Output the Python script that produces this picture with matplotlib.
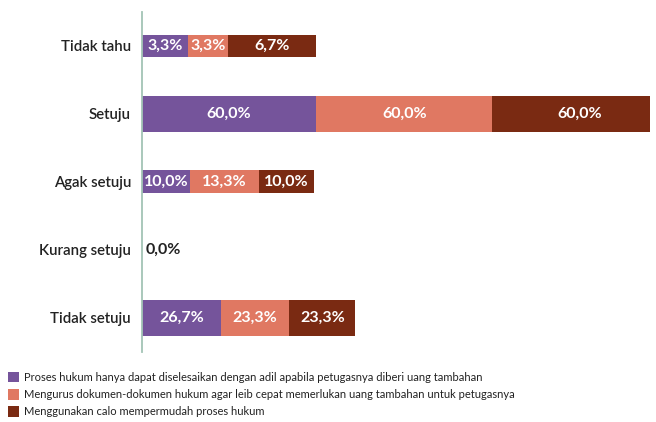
import numpy as np
import matplotlib.pyplot as plt
from matplotlib.patches import Patch

# --- данные ---
categories = ['Tidak tahu', 'Setuju', 'Agak setuju', 'Kurang setuju', 'Tidak setuju']
series_names = [
    'Proses hukum hanya dapat diselesaikan dengan adil apabila petugasnya diberi uang tambahan',
    'Mengurus dokumen-dokumen hukum agar leib cepat memerlukan uang tambahan untuk petugasnya',
    'Menggunakan calo mempermudah proses hukum',
]
# values shown on the labels (%)
pct_1 = [3.3, 60.0, 10.0, 0.0, 26.7]
pct_2 = [3.3, 60.0, 13.3, 0.0, 23.3]
pct_3 = [6.7, 60.0, 10.0, 0.0, 23.3]
# bar lengths as drawn in the source chart (not proportional to the labels)
len_1 = [15.9, 60.0, 16.6, 0.0, 27.2]
len_2 = [13.8, 60.5, 23.6, 0.0, 23.5]
len_3 = [30.2, 60.0, 18.9, 0.0, 22.7]
bar_heights = [0.32, 0.53, 0.34, 0.53, 0.53]

colors = ['#75549b', '#e07862', '#7a2a12']

plt.rcParams['font.family'] = ['Lato', 'DejaVu Sans']


def fmt(v):
    return f'{v:.1f}'.replace('.', ',') + '%'


fig = plt.figure(figsize=(6.56, 4.22), dpi=100)
ax = fig.add_axes([0.2165, 0.1664, 0.7745, 0.8056])

y = np.arange(len(categories))
left = np.zeros(len(categories))
for lens, pcts, col in zip([len_1, len_2, len_3], [pct_1, pct_2, pct_3], colors):
    ax.barh(y, lens, left=left, height=bar_heights, color=col, linewidth=0)
    for i in range(len(categories)):
        if lens[i] > 0:
            ax.text(left[i] + lens[i] / 2, y[i], fmt(pcts[i]), ha='center', va='center',
                    color='white', fontsize=11.5, fontweight='bold')
    left += np.array(lens)

# пустая категория
for i in range(len(categories)):
    if left[i] == 0:
        ax.text(1.4, y[i], fmt(pct_1[i]), ha='left', va='center',
                color='#222222', fontsize=11.5, fontweight='bold')

ax.set_xlim(0, 174.9)
ax.set_ylim(4.5, -0.5)
ax.set_yticks(y)
ax.set_yticklabels(categories, fontsize=10.8, color='#222222', fontweight='semibold')
ax.set_xticks([])
ax.tick_params(axis='y', length=0, pad=8)
for s in ['top', 'right', 'bottom']:
    ax.spines[s].set_visible(False)
ax.spines['left'].set_color('#a3c4b5')
ax.spines['left'].set_linewidth(1.3)

handles = [Patch(facecolor=c, edgecolor='none') for c in colors]
fig.legend(handles, series_names, loc='lower left', bbox_to_anchor=(-0.002, -0.01),
           frameon=False, fontsize=8.0, handlelength=1.05, handleheight=1.05,
           handletextpad=0.45, labelspacing=0.55, borderpad=0.3, labelcolor='#222222')

fig.savefig('out.png', dpi=100)
